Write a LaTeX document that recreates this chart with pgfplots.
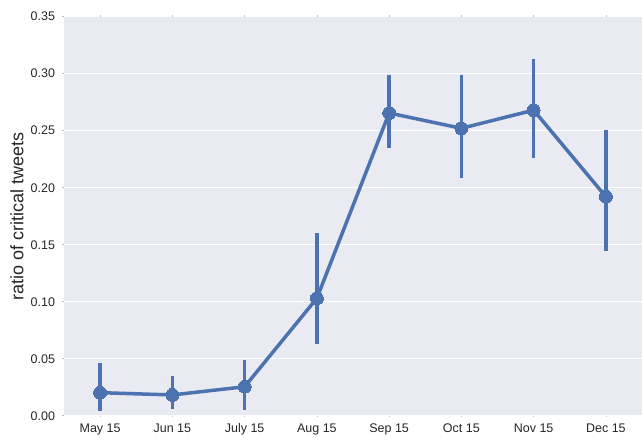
\documentclass[border=0pt]{standalone}
\usepackage{pgfplots}
\pgfplotsset{compat=1.18}
\usepackage{fontspec}
\setmainfont{Liberation Sans}
\definecolor{sbblue}{HTML}{4C72B0}
\definecolor{sbbg}{HTML}{EAEAF2}
\definecolor{sbtext}{HTML}{262626}
\begin{document}
\begin{tikzpicture}
\begin{axis}[
  at={(0,0)}, anchor=south west,
  scale only axis,
  width=578pt, height=399pt,
  xmin=-0.5, xmax=7.5,
  ymin=0, ymax=0.35,
  xtick={0,1,2,3,4,5,6,7},
  xticklabels={May 15,Jun 15,July 15,Aug 15,Sep 15,Oct 15,Nov 15,Dec 15},
  ytick={0,0.05,0.10,0.15,0.20,0.25,0.30,0.35},
  yticklabel style={/pgf/number format/fixed, /pgf/number format/fixed zerofill, /pgf/number format/precision=2},
  /pgf/number format/assume math mode=true,
  axis background/.style={fill=sbbg},
  axis line style={draw=none},
  grid=major,
  xmajorgrids=false,
  major grid style={white, line width=1.2pt},
  tick align=outside,
  major tick length=1.5pt,
  tick style={gray!50, line width=0.6pt},
  ticklabel style={font=\fontsize{12.5}{14}\selectfont, text=sbtext},
  xticklabel style={yshift=-3pt},
  yticklabel style={xshift=-4pt},
  ylabel={ratio of critical tweets},
  every axis y label/.style={at={(axis description cs:0,0.5)}, rotate=90, anchor=center, yshift=47pt, font=\fontsize{18}{20}\selectfont, text=sbtext},
  clip=false,
]
\addplot[sbblue, line width=3.5pt, mark=*, mark size=6.5pt, mark options={fill=sbblue, draw=sbblue, line width=0pt},
  error bars/.cd, y dir=both, y explicit, error bar style={line width=3.5pt, sbblue}, error mark=none]
  table[x=x, y=y, y error plus=ep, y error minus=em] {
x y ep em
0 0.0202 0.0258 0.0158
1 0.0182 0.0169 0.0126
2 0.0254 0.0235 0.0204
3 0.1030 0.0570 0.0400
4 0.2655 0.0334 0.0309
5 0.2521 0.0469 0.0438
6 0.2680 0.0449 0.0417
7 0.1921 0.0585 0.0476
};
\end{axis}
\pgfresetboundingbox
\path (-64pt,-23.3pt) rectangle (578pt,415.7pt);
\end{tikzpicture}
\end{document}
